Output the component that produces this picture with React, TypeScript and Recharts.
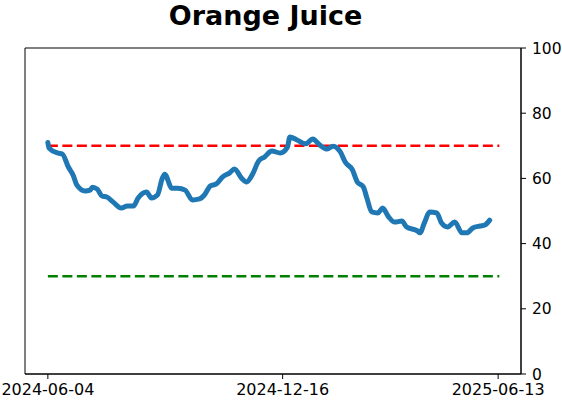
import React from 'react';
import { LineChart, Line, XAxis, YAxis, ReferenceLine, ReferenceArea } from 'recharts';

// days since 2024-06-04
const DAYS = [
  0, 1, 8, 12, 17, 21, 24, 31, 35, 37, 41, 45, 49, 54, 61, 66, 71, 75, 82, 86, 91, 95, 97, 103, 108, 114,
  120, 126, 130, 135, 140, 145, 151, 155, 161, 165, 170, 175, 180, 186, 193, 199, 201, 207, 214, 220,
  226, 232, 237, 243, 247, 253, 257, 262, 265, 269, 274, 278, 283, 288, 294, 298, 307, 309, 313, 317,
  323, 327, 332, 338, 344, 348, 353, 359, 363, 367,
];
const VALUES = [
  71, 69.3, 67.8, 67.5, 63.5, 61, 58, 56.1, 56.4, 57.3, 56.7, 54.6, 54.3, 52.8, 50.9, 51.5, 51.5, 54, 55.8, 54, 54.9, 60, 61.3, 57, 57, 56.4,
  53.4, 53.7, 54.9, 57.7, 58.3, 60.4, 61.7, 62.9, 60, 58.9, 61.3, 65.3, 66.6, 68.4, 67.8, 69.6, 72.7, 71.8, 70.6, 72.1,
  70.2, 69, 69.9, 68.1, 65, 62.6, 58.9, 57.4, 54, 49.7, 49.4, 50.9, 48.2, 46.6, 46.9, 45.1, 43.9, 43.3, 46.6, 49.7,
  49.4, 46.3, 45.1, 46.6, 43.3, 43.3, 44.8, 45.4, 45.7, 47.2,
];
const TICK_DAYS = [0, 195, 374];
const TICK_LABELS = ['2024-06-04', '2024-12-16', '2025-06-13'];
const Y_TICKS = [0, 20, 40, 60, 80, 100];
const UPPER = 70;
const LOWER = 30;

const data = DAYS.map((t, i) => ({ t, v: VALUES[i] }));
const FONT = "'DejaVu Sans', sans-serif";

export default function App() {
  return (
    <div style={{ position: 'fixed', left: 0, top: 0, width: 562, height: 402, background: 'white', fontFamily: FONT }}>
      <div style={{ position: 'absolute', left: 0, width: 531, top: 0, lineHeight: 'normal', textAlign: 'center', fontSize: 27, fontWeight: 700, color: '#000' }}>
        Orange Juice
      </div>
      <LineChart width={562} height={402} data={data} margin={{ top: 48, right: 0, left: 25, bottom: 0 }}>
        <XAxis
          dataKey="t" type="number" domain={[-19, 393]} allowDataOverflow
          ticks={TICK_DAYS} tickFormatter={(v: number) => TICK_LABELS[TICK_DAYS.indexOf(v)] ?? ''}
          height={28} tickSize={5} tickMargin={5}
          tick={{ fontSize: 16, fill: '#000', fontFamily: FONT }}
          stroke="#000" interval={0}
        />
        <YAxis
          orientation="right" domain={[0, 100]} ticks={Y_TICKS} width={41}
          tickSize={5} tickMargin={6}
          tick={{ fontSize: 15.5, fill: '#000', fontFamily: FONT, textAnchor: 'start' }}
          stroke="#000"
        />
        <ReferenceArea x1={-19} x2={393} y1={0} y2={100} fill="none" stroke="#000" strokeWidth={1} ifOverflow="visible" />
        <ReferenceLine segment={[{ x: 0, y: UPPER }, { x: 375, y: UPPER }]} stroke="#ff0000" strokeWidth={2.5} strokeDasharray="10 4.5" />
        <ReferenceLine segment={[{ x: 0, y: LOWER }, { x: 375, y: LOWER }]} stroke="#008000" strokeWidth={2.5} strokeDasharray="10 4.5" />
        <Line
          dataKey="v" type="monotone" stroke="#1f77b4" strokeWidth={5} dot={false}
          strokeLinecap="round" strokeLinejoin="round" isAnimationActive={false}
        />
      </LineChart>
    </div>
  );
}
